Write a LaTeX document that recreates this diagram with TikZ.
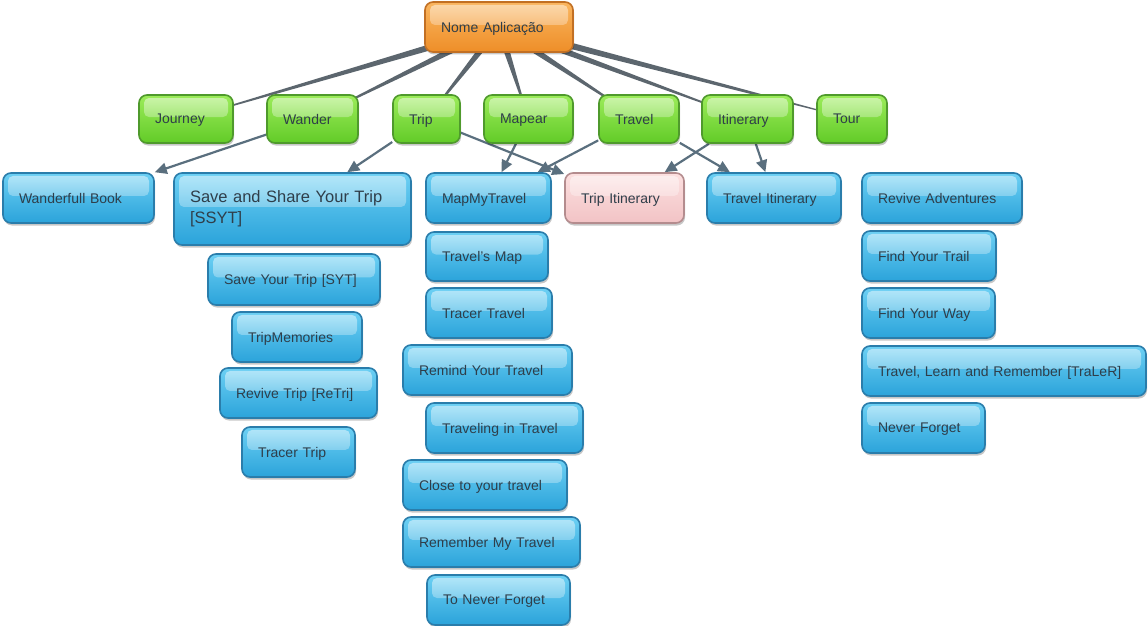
\documentclass[tikz,border=0pt]{standalone}
\usepackage{fontspec}
\setmainfont{Liberation Sans}
\usetikzlibrary{calc,arrows.meta,shadows,backgrounds,fadings}

% palette
\definecolor{blueTop}{HTML}{6CD0F4}
\definecolor{blueBot}{HTML}{2BA3DA}
\definecolor{blueEdge}{HTML}{2A7DAB}
\definecolor{greenTop}{HTML}{9CEC5A}
\definecolor{greenBot}{HTML}{62CB28}
\definecolor{greenEdge}{HTML}{4F9A2C}
\definecolor{orangeTop}{HTML}{FAB660}
\definecolor{orangeBot}{HTML}{EE8E28}
\definecolor{orangeEdge}{HTML}{C27024}
\definecolor{pinkTop}{HTML}{FCE0E0}
\definecolor{pinkBot}{HTML}{F2C3C5}
\definecolor{pinkEdge}{HTML}{B48C8E}
\definecolor{textDark}{HTML}{2F3E4A}
\definecolor{treeGray}{HTML}{5C666E}
\definecolor{arrowGray}{HTML}{5A6F7E}

% soft gloss on the upper half of each box
\tikzfading[name=glossfade, top color=transparent!50, bottom color=transparent!95]

\tikzset{
  cardbase/.style={rounded corners=8pt, line width=1.6pt, inner xsep=16pt, inner ysep=2pt,
    align=left, text=textDark, font=\fontsize{14}{17}\selectfont,
    drop shadow={shadow xshift=1pt, shadow yshift=-2.5pt, opacity=0.22, fill=black},
    path picture={\fill[white, path fading=glossfade, rounded corners=5pt]
      ([xshift=5pt,yshift=-3pt]path picture bounding box.north west) rectangle
      ([xshift=-5pt,yshift=2pt]path picture bounding box.east);}},
  card/.style={cardbase, text depth=0pt},
  bluecard/.style={card, draw=blueEdge, top color=blueTop, bottom color=blueBot},
  greencard/.style={card, draw=greenEdge, top color=greenTop, bottom color=greenBot},
  orangecard/.style={card, draw=orangeEdge, top color=orangeTop, bottom color=orangeBot},
  pinkcard/.style={card, draw=pinkEdge, top color=pinkTop, bottom color=pinkBot},
  bigcard/.style={cardbase, draw=blueEdge, top color=blueTop, bottom color=blueBot,
    font=\fontsize{16.5}{21}\selectfont},
  treeline/.style={fill=treeGray},
  link/.style={draw=arrowGray, line width=2.2pt, -{Triangle[length=12pt,width=11pt]}},
}

% box given by its left, top, right and bottom edges (in px)
\newcommand\cardnode[7][bluecard]{%
  \pgfmathsetmacro\cardW{#5-#3}%
  \pgfmathsetmacro\cardH{#6-#4}%
  \pgfmathsetmacro\cardT{#5-#3-32}%
  \node[#1, minimum width=\cardW pt, minimum height=\cardH pt, text width=\cardT pt]
    (#2) at ({(#3+#5)/2},{(#4+#6)/2}) {#7};}

% tapered line, wide at the first node and thin at the second
\newcommand\taperline[2]{%
  \fill[treeline] ($(#1)!3.8pt!90:(#2)$) -- ($(#2)!0.3pt!-90:(#1)$)
    -- ($(#2)!0.3pt!90:(#1)$) -- ($(#1)!3.8pt!-90:(#2)$) -- cycle;}

\begin{document}
\begin{tikzpicture}[x=1pt, y=-1pt]
\begin{pgfonlayer}{background}
  \fill[white] (0,0) rectangle (1148,626);
\end{pgfonlayer}
\useasboundingbox (0,0) rectangle (1148,626);

% root
\cardnode[orangecard]{root}{425}{2}{573}{52}{Nome Aplicação}

% first level
\cardnode[greencard]{journey}{139}{95}{233}{143}{Journey}
\cardnode[greencard]{wander}{267}{95}{358}{143}{Wander}
\cardnode[greencard]{trip}{393}{95}{460}{143}{Trip}
\cardnode[greencard]{mapear}{484}{95}{573}{143}{Mapear}
\cardnode[greencard]{travel}{599}{95}{679}{143}{Travel}
\cardnode[greencard]{itinerary}{702}{95}{793}{143}{Itinerary}
\cardnode[greencard]{tour}{817}{95}{887}{143}{Tour}

% names
\cardnode{wbook}{3}{173}{154}{223}{Wanderfull Book}
\cardnode[bigcard]{ssyt}{174}{173}{411}{245}{Save and Share Your Trip\\{}[SSYT]}
\cardnode{syt}{208}{254}{380}{305}{Save Your Trip [SYT]}
\cardnode{tripmem}{232}{312}{362}{362}{TripMemories}
\cardnode{retri}{220}{368}{377}{418}{Revive Trip [ReTri]}
\cardnode{tracertrip}{242}{427}{355}{477}{Tracer Trip}

\cardnode{mapmy}{426}{173}{551}{223}{MapMyTravel}
\cardnode{travelsmap}{426}{232}{548}{281}{Travel's Map}
\cardnode{tracertravel}{426}{288}{552}{338}{Tracer Travel}
\cardnode{remind}{403}{345}{572}{395}{Remind Your Travel}
\cardnode{traveling}{426}{403}{583}{453}{Traveling in Travel}
\cardnode{close}{403}{460}{567}{510}{Close to your travel}
\cardnode{remember}{403}{517}{580}{567}{Remember My Travel}
\cardnode{tonever}{427}{575}{570}{625}{To Never Forget}

\cardnode[pinkcard]{tripitin}{565}{173}{684}{223}{Trip Itinerary}
\cardnode{travelitin}{707}{173}{841}{223}{Travel Itinerary}

\cardnode{revive}{862}{173}{1022}{223}{Revive Adventures}
\cardnode{trail}{862}{231}{996}{281}{Find Your Trail}
\cardnode{way}{862}{288}{995}{338}{Find Your Way}
\cardnode{traler}{862}{346}{1146}{396}{Travel, Learn and Remember [TraLeR]}
\cardnode{neverforget}{862}{403}{985}{453}{Never Forget}

\begin{pgfonlayer}{background}
  % root to first level
  \foreach \child in {journey,wander,trip,mapear,travel,itinerary,tour}
    {\taperline{root}{\child}}
  % first level to names
  \draw[link] (wander) -- (wbook);
  \draw[link] (trip) -- (ssyt);
  \draw[link] (trip) -- (tripitin);
  \draw[link] (mapear) -- (mapmy);
  \draw[link] (travel) -- (mapmy);
  \draw[link] (travel) -- (travelitin);
  \draw[link] (itinerary) -- (tripitin);
  \draw[link] (itinerary) -- (travelitin);
\end{pgfonlayer}
\end{tikzpicture}
\end{document}
